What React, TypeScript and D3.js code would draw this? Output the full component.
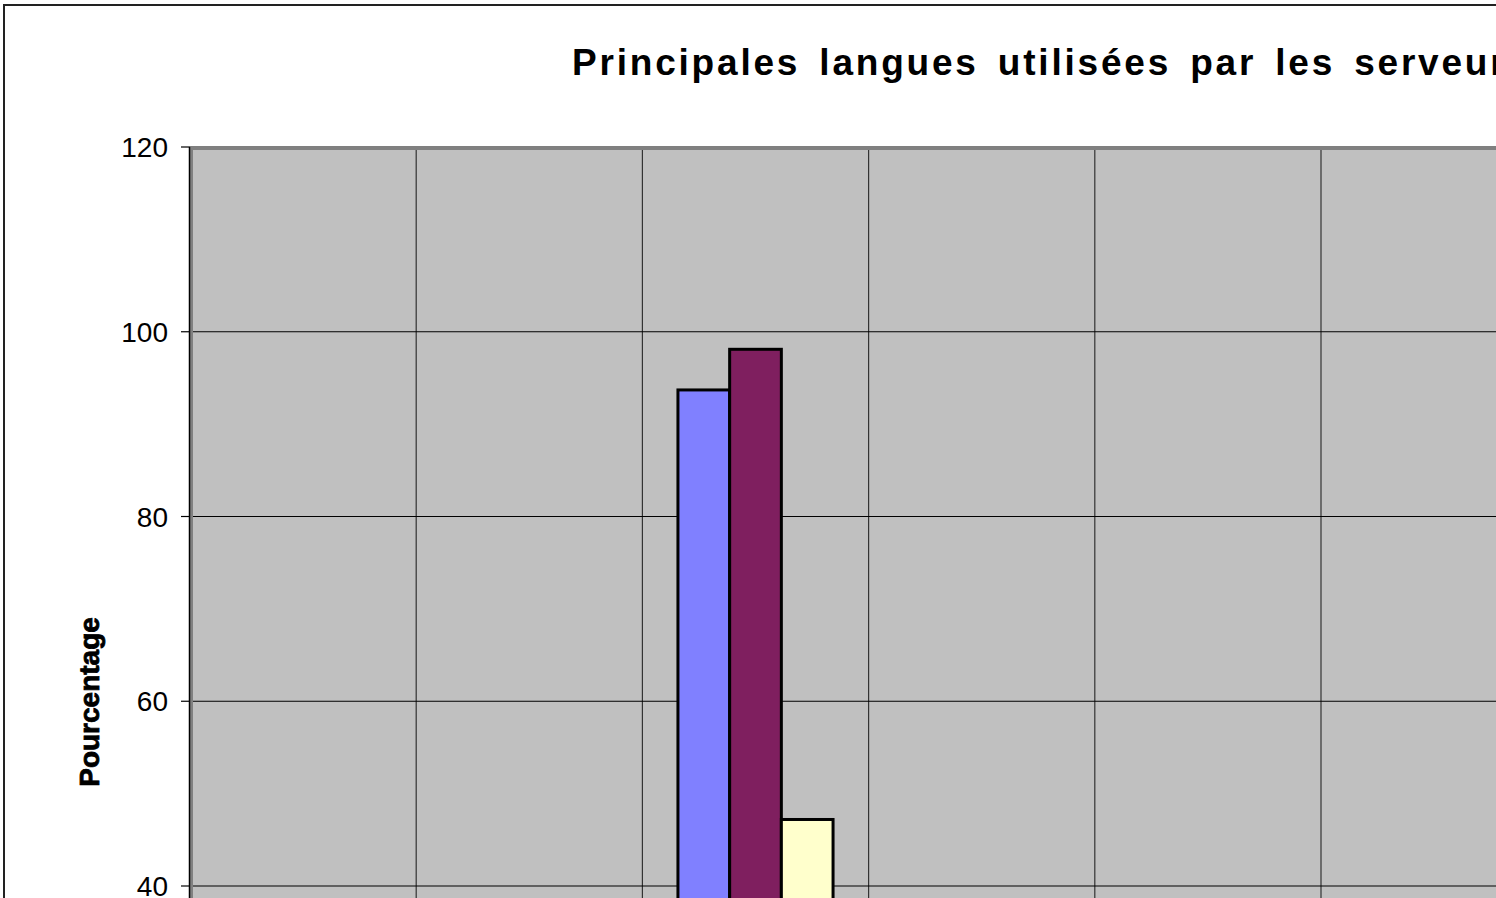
import React from "react";
import * as d3 from "d3";

// Category slots (labels are outside the visible crop)
const categories = ["c1", "c2", "c3", "c4", "c5", "c6", "c7"];
const seriesKeys = ["s1", "s2", "s3"];
const seriesColors = ["#8080FF", "#7F1F5F", "#FFFFCC"];
// Only the third category has values visible within the 40–120 range
const series1 = [null, null, 93.7, null, null, null, null];
const series2 = [null, null, 98.1, null, null, null, null];
const series3 = [null, null, 47.2, null, null, null, null];
const yTicks = [0, 20, 40, 60, 80, 100, 120];

const title = "Principales langues utilisées par les serveurs";
const yLabel = "Pourcentage";

export default function App() {
  const W = 1496;
  const H = 898;
  const plotLeft = 190;
  const plotTop = 147;
  const bandW = 226.2;
  const plotRight = plotLeft + bandW * categories.length;
  const plotBottom = 147 + 6 * 184.75;

  const x = d3.scaleBand<string>().domain(categories).range([plotLeft, plotRight]).padding(0);
  const xs = d3
    .scaleBand<string>()
    .domain(seriesKeys)
    .range([0, x.bandwidth()])
    .paddingInner(0)
    .paddingOuter(0.6875);
  const y = d3.scaleLinear().domain([0, 120]).range([plotBottom, plotTop]);

  const allSeries = [series1, series2, series3];
  const font = "'Liberation Sans', Arial, Helvetica, sans-serif";

  return (
    <svg
      width={W}
      height={H}
      style={{ position: "absolute", left: 0, top: 0, background: "#fff" }}
    >
      {/* outer chart border */}
      <rect x={4} y={5} width={W + 20} height={H + 20} fill="#fff" stroke="#222" strokeWidth={2} />

      {/* title */}
      <text
        x={572}
        y={75}
        fontFamily={font}
        fontWeight="bold"
        fontSize={37}
        letterSpacing={2.8}
        wordSpacing={6}
        fill="#000"
      >
        {title}
      </text>

      {/* plot area */}
      <rect
        x={plotLeft}
        y={plotTop}
        width={plotRight - plotLeft}
        height={plotBottom - plotTop}
        fill="#C0C0C0"
      />

      {/* vertical category gridlines */}
      {categories.slice(1).map((c) => (
        <line
          key={"v" + c}
          x1={x(c)!}
          x2={x(c)!}
          y1={plotTop}
          y2={plotBottom}
          stroke="#333"
          strokeWidth={1.2}
        />
      ))}

      {/* horizontal value gridlines */}
      {yTicks.map((t) => (
        <line
          key={"h" + t}
          x1={plotLeft}
          x2={plotRight}
          y1={y(t)}
          y2={y(t)}
          stroke="#000"
          strokeWidth={1.2}
        />
      ))}

      {/* bars */}
      {categories.map((c, ci) =>
        seriesKeys.map((s, si) => {
          const v = allSeries[si][ci];
          if (v == null) return null;
          const bx = x(c)! + xs(s)!;
          return (
            <rect
              key={c + s}
              x={bx}
              y={y(v)}
              width={xs.bandwidth()}
              height={plotBottom - y(v)}
              fill={seriesColors[si]}
              stroke="#000"
              strokeWidth={3}
            />
          );
        })
      )}

      {/* plot area border */}
      <rect
        x={plotLeft + 1.5}
        y={plotTop + 1.5}
        width={plotRight - plotLeft}
        height={plotBottom - plotTop}
        fill="none"
        stroke="#808080"
        strokeWidth={3}
      />

      {/* value axis */}
      <line x1={189.5} x2={189.5} y1={plotTop} y2={plotBottom} stroke="#000" strokeWidth={1.5} />
      {yTicks.map((t) => (
        <g key={"t" + t}>
          <line x1={181} x2={190} y1={y(t)} y2={y(t)} stroke="#000" strokeWidth={1.2} />
          <text
            x={168}
            y={y(t) + 10}
            textAnchor="end"
            fontFamily={font}
            fontSize={28}
            fill="#000"
          >
            {t}
          </text>
        </g>
      ))}

      {/* y axis title */}
      <text
        transform={`translate(99, 702) rotate(-90)`}
        textAnchor="middle"
        fontFamily={font}
        fontWeight="bold"
        fontSize={28}
        stroke="#000"
        strokeWidth={0.8}
        fill="#000"
      >
        {yLabel}
      </text>
    </svg>
  );
}
